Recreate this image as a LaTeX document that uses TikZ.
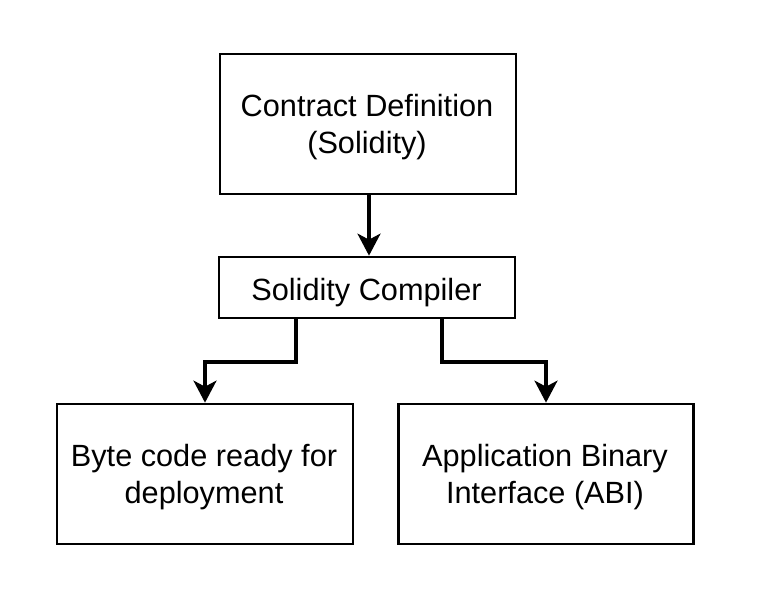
\documentclass[tikz,border=0pt]{standalone}
\usepackage{fontspec}
\setmainfont{Liberation Sans}
\usetikzlibrary{arrows.meta}
\tikzset{
  box/.style={draw=black, line width=2.7bp, fill=white, inner sep=0pt, line join=miter},
  lbl/.style={inner sep=0pt, anchor=base, font=\fontsize{30.7bp}{32.5bp}\selectfont},
  arr/.style={line width=3.3bp, -{Stealth[length=22bp, width=23bp, inset=6bp]}, line join=miter},
}
\begin{document}
\begin{tikzpicture}[x=1bp, y=-1bp]
\useasboundingbox[fill=white] (0,0) rectangle (762,613);
% boxes
\node[box, minimum width=296bp, minimum height=140bp] (def) at (368,124) {};
\node[box, minimum width=296bp, minimum height=61bp] (comp) at (367,287.5) {};
\node[box, minimum width=296bp, minimum height=140bp] (byte) at (205,474) {};
\node[box, minimum width=295bp, minimum height=140bp] (abi) at (546,474) {};
% texts
\node[lbl] (def1) at (367,117) {Contract Definition};
\node[lbl] (def2) at (367,154) {(Solidity)};
\node[lbl] (compt) at (366.5,300) {Solidity Compiler};
\node[lbl] (byte1) at (204,466.5) {Byte code ready for};
\node[lbl] (byte2) at (204,503) {deployment};
\node[lbl] (abi1) at (545,466.5) {Application Binary};
\node[lbl] (abi2) at (545,503) {Interface (ABI)};
% connectors
\coordinate (lbend) at (205,362);
\coordinate (rbend) at (546,362);
\draw[arr] (def.south -| 369,0) -- (comp.north -| 369,0);
\draw[arr] ([xshift=-71bp]comp.south) |- (lbend) -- (byte.north);
\draw[arr] ([xshift=75bp]comp.south) |- (rbend) -- (abi.north);
\end{tikzpicture}
\end{document}
